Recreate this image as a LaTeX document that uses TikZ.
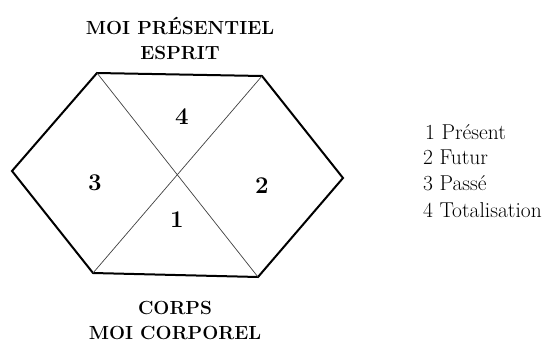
\documentclass[tikz,border=0pt]{standalone}
\usepackage{fontspec}
\usetikzlibrary{positioning}

\begin{document}
\begin{tikzpicture}[
  x=1pt, y=-1pt,
  titre/.style={font=\fontsize{19}{25}\selectfont\bfseries, align=center, inner sep=0pt},
  num/.style={font=\fontsize{24}{24}\selectfont\bfseries, inner sep=0pt},
  legende/.style={font=\fontsize{21.5}{24}\selectfont, anchor=west, inner sep=0pt},
  contour/.style={line width=2pt, line join=miter},
  diag/.style={line width=0.7pt, black!75}
]
\useasboundingbox (0,0) rectangle (542,343);
% sommets de l'hexagone
\coordinate (hg) at (97,73);
\coordinate (hd) at (262,76);
\coordinate (d) at (343,178);
\coordinate (bd) at (258,277);
\coordinate (bg) at (93,273);
\coordinate (g) at (12,171);
\draw[contour] (hg) -- (hd) -- (d) -- (bd) -- (bg) -- (g) -- cycle;
\draw[diag] (hg) -- (bd);
\draw[diag] (bg) -- (hd);

% numeros des secteurs
\node[num] (n4) at (182,117) {4};
\node[num] (n3) at (95,183) {3};
\node[num] (n2) at (262,186) {2};
\node[num] (n1) at (177,220) {1};

% titres
\node[titre] (esprit) at (180,38) {MOI PRÉSENTIEL\\ESPRIT};
\node[titre] (corps) at (175,320) {CORPS\\MOI CORPOREL};

% legende
\node[legende] (l1) at (425,132) {1 Présent};
\node[legende] (l2) at (423,157) {2 Futur};
\node[legende] (l3) at (423,183) {3 Passé};
\node[legende] (l4) at (423,210) {4 Totalisation};
\end{tikzpicture}
\end{document}
